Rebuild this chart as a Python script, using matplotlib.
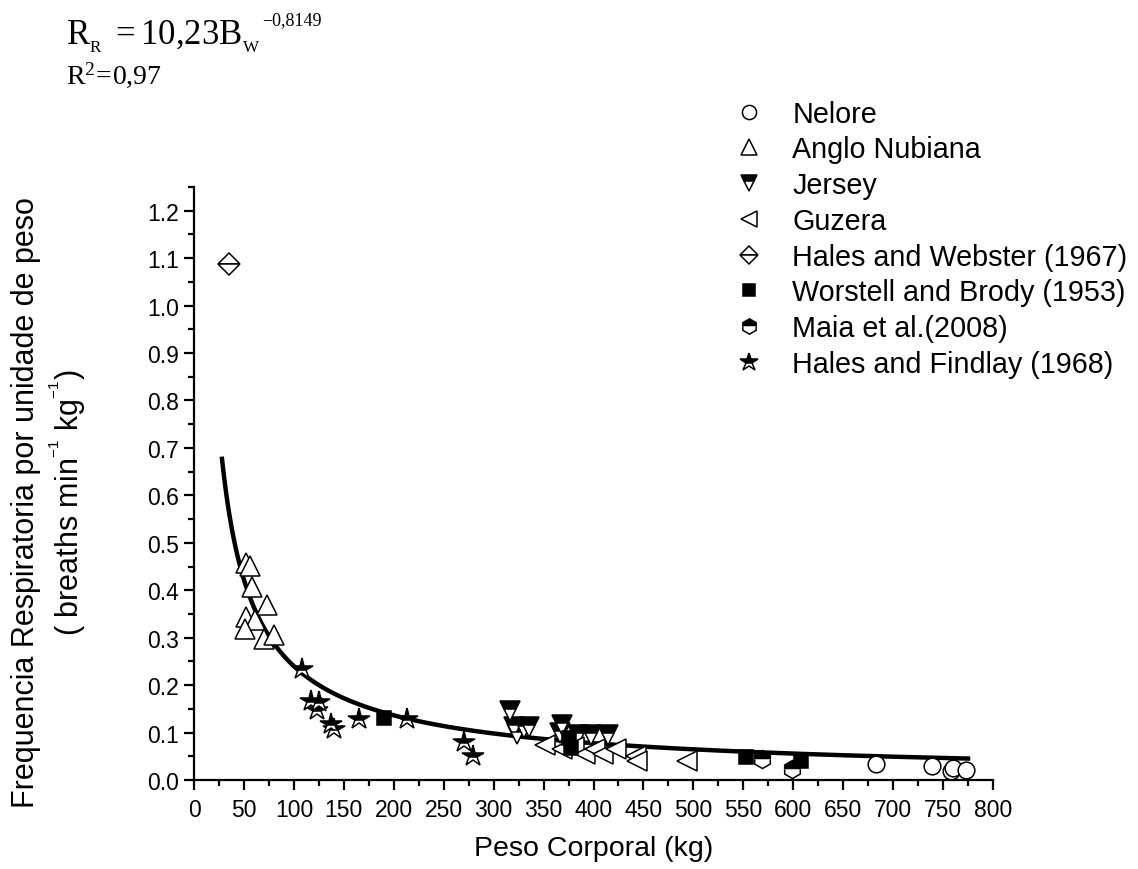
#!/usr/bin/env python3
from __future__ import annotations
import numpy as np
import matplotlib
matplotlib.use("Agg")
import matplotlib.pyplot as plt
from matplotlib.ticker import MultipleLocator

# ---- data (body weight kg, breaths/min/kg) ----
nelore_x = [683, 739, 758, 760, 773]
nelore_y = [0.034, 0.029, 0.018, 0.026, 0.022]

anglo_x = [52, 56, 58, 73, 52, 61, 51, 70, 80]
anglo_y = [0.457, 0.451, 0.407, 0.368, 0.344, 0.337, 0.318, 0.298, 0.305]

jersey_x = [316, 320, 323, 330, 335, 366, 368, 384, 397, 414]
jersey_y = [0.145, 0.111, 0.097, 0.109, 0.112, 0.100, 0.115, 0.094, 0.095, 0.094]

guzera_x = [351, 368, 380, 391, 401, 409, 423, 443, 444, 494]
guzera_y = [0.073, 0.066, 0.070, 0.055, 0.066, 0.055, 0.066, 0.051, 0.041, 0.041]

webster_x = [35]
webster_y = [1.087]

worstell_x = [190, 375, 377, 553, 608]
worstell_y = [0.130, 0.088, 0.068, 0.048, 0.041]

maia_x = [569, 599]
maia_y = [0.044, 0.023]

findlay_x = [108, 117, 125, 123, 137, 140, 165, 213, 270, 279]
findlay_y = [0.235, 0.166, 0.164, 0.147, 0.118, 0.108, 0.129, 0.129, 0.081, 0.051]

# fitted power curve printed on the chart: RR = 10,23 * BW^-0,8149
fit_a = 10.23
fit_b = -0.8149
fit_range = (28, 775)


def setup_fonts() -> None:
    plt.rcParams["font.family"] = ["Liberation Sans", "DejaVu Sans"]
    plt.rcParams["mathtext.fontset"] = "custom"
    plt.rcParams["mathtext.rm"] = "Liberation Serif"
    plt.rcParams["mathtext.it"] = "Liberation Serif:italic"
    plt.rcParams["mathtext.sf"] = "Liberation Sans"
    plt.rcParams["axes.unicode_minus"] = True


def plot_series(ax) -> None:
    common = dict(linestyle="none", color="black", markeredgecolor="black",
                  markeredgewidth=1.1)
    ax.plot(nelore_x, nelore_y, marker="o", markersize=12,
            markerfacecolor="white", label="Nelore", **common)
    ax.plot(anglo_x, anglo_y, marker="^", markersize=14,
            markerfacecolor="white", label="Anglo Nubiana", **common)
    ax.plot(jersey_x, jersey_y, marker="v", markersize=14, fillstyle="top",
            markerfacecolor="black", markerfacecoloralt="white",
            label="Jersey", **common)
    ax.plot(guzera_x, guzera_y, marker="<", markersize=14,
            markerfacecolor="white", label="Guzera", **common)
    ax.plot(webster_x, webster_y, marker="D", markersize=11, fillstyle="top",
            markerfacecolor="white", markerfacecoloralt="white",
            label="Hales and Webster (1967)", **common)
    ax.plot(worstell_x, worstell_y, marker="s", markersize=10,
            markerfacecolor="black", label="Worstell and Brody (1953)", **common)
    ax.plot(maia_x, maia_y, marker="h", markersize=13, fillstyle="top",
            markerfacecolor="black", markerfacecoloralt="white",
            label="Maia et al.(2008)", **common)
    ax.plot(findlay_x, findlay_y, marker="*", markersize=16, fillstyle="top",
            markerfacecolor="black", markerfacecoloralt="white",
            label="Hales and Findlay (1968)", **common)

    bw = np.linspace(fit_range[0], fit_range[1], 400)
    ax.plot(bw, fit_a * bw ** fit_b, color="black", linewidth=3.2, zorder=1)


def style_axes(ax) -> None:
    ax.set_xlim(0, 800)
    ax.set_ylim(0, 1.25)
    ax.xaxis.set_major_locator(MultipleLocator(50))
    ax.xaxis.set_minor_locator(MultipleLocator(25))
    ax.yaxis.set_major_locator(MultipleLocator(0.1))
    ax.yaxis.set_minor_locator(MultipleLocator(0.05))
    ax.yaxis.set_major_formatter(plt.FuncFormatter(lambda v, _: f"{v:.1f}"))
    ax.spines["top"].set_visible(False)
    ax.spines["right"].set_visible(False)
    for s in ("left", "bottom"):
        ax.spines[s].set_linewidth(1.6)
    ax.tick_params(which="major", direction="out", length=7, width=1.6,
                   labelsize=16.5, pad=4)
    ax.tick_params(which="minor", direction="out", length=4, width=1.6)
    ax.tick_params(axis="x", which="major", pad=6)
    ax.set_xlabel("Peso Corporal (kg)", fontsize=20.5, labelpad=10)
    ax.set_ylabel("Frequencia Respiratoria por unidade de peso\n"
                  r"( breaths min$^{\mathsf{^{-1}}}$ kg$^{\mathsf{^{-1}}}$)",
                  fontsize=22, linespacing=1.2)
    ax.yaxis.set_label_coords(-0.1325, 0.47)


def main() -> None:
    setup_fonts()
    fig = plt.figure(figsize=(11.38, 8.70), dpi=100)
    ax = fig.add_axes([0.1705, 0.1023, 0.7021, 0.6816])
    plot_series(ax)
    style_axes(ax)

    fig.legend(loc="upper left", bbox_to_anchor=(0.6355, 0.8976), frameon=False,
               fontsize=20.7, labelspacing=0.27, handlelength=1.0,
               handletextpad=1.0, markerscale=0.85, borderaxespad=0)

    fig.text(0.058, 1 - 44 / 870, r"$\mathrm{R_{_R}\ =10{,}23B_{_W}}$",
             fontsize=25, ha="left", va="baseline")
    fig.text(262 / 1138, 1 - 25 / 870, "\u22120,8149", fontsize=13,
             family="Liberation Serif", ha="left", va="baseline")
    fig.text(0.058, 1 - 84 / 870, r"$\mathrm{R^2\!=\!0{,}97}$", fontsize=20,
             ha="left", va="baseline")

    fig.savefig("out.png", dpi=100)
    plt.close(fig)


if __name__ == "__main__":
    main()
